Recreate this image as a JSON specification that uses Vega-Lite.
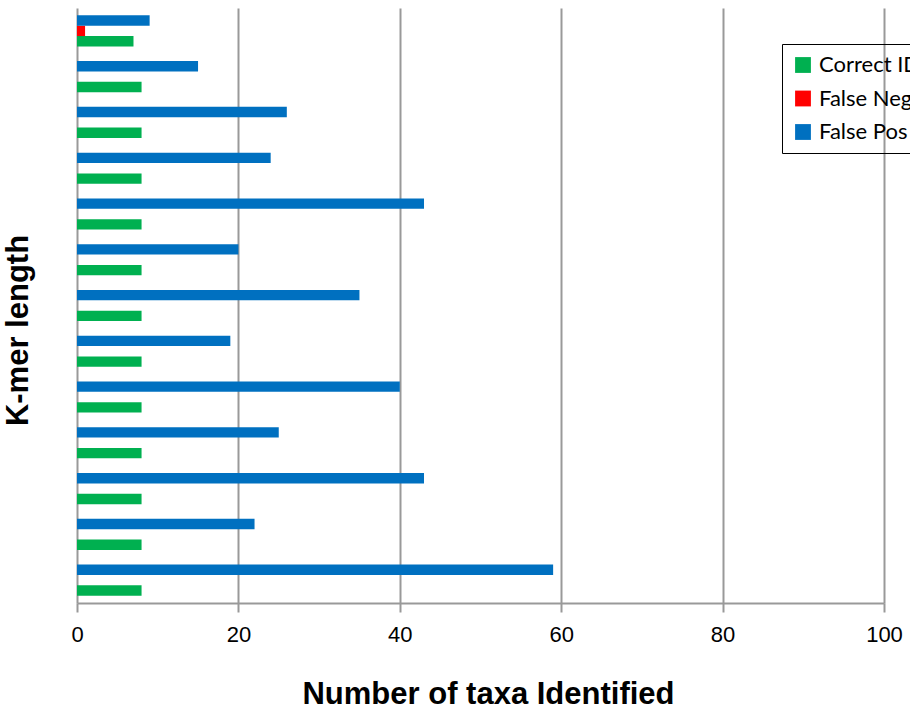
{
  "$schema": "https://vega.github.io/schema/vega-lite/v6.json",
  "width": 807,
  "height": 595,
  "autosize": {"type": "none"},
  "padding": {"left": 77, "top": 8, "right": 26, "bottom": 110},
  "background": "white",
  "config": {"view": {"stroke": null}, "font": "Liberation Sans"},
  "data": {
    "values": [
      {"kmer": "1", "series": "Correct ID", "count": 7},
      {"kmer": "1", "series": "False Neg", "count": 1},
      {"kmer": "1", "series": "False Pos", "count": 9},
      {"kmer": "2", "series": "Correct ID", "count": 8},
      {"kmer": "2", "series": "False Neg", "count": 0},
      {"kmer": "2", "series": "False Pos", "count": 15},
      {"kmer": "3", "series": "Correct ID", "count": 8},
      {"kmer": "3", "series": "False Neg", "count": 0},
      {"kmer": "3", "series": "False Pos", "count": 26},
      {"kmer": "4", "series": "Correct ID", "count": 8},
      {"kmer": "4", "series": "False Neg", "count": 0},
      {"kmer": "4", "series": "False Pos", "count": 24},
      {"kmer": "5", "series": "Correct ID", "count": 8},
      {"kmer": "5", "series": "False Neg", "count": 0},
      {"kmer": "5", "series": "False Pos", "count": 43},
      {"kmer": "6", "series": "Correct ID", "count": 8},
      {"kmer": "6", "series": "False Neg", "count": 0},
      {"kmer": "6", "series": "False Pos", "count": 20},
      {"kmer": "7", "series": "Correct ID", "count": 8},
      {"kmer": "7", "series": "False Neg", "count": 0},
      {"kmer": "7", "series": "False Pos", "count": 35},
      {"kmer": "8", "series": "Correct ID", "count": 8},
      {"kmer": "8", "series": "False Neg", "count": 0},
      {"kmer": "8", "series": "False Pos", "count": 19},
      {"kmer": "9", "series": "Correct ID", "count": 8},
      {"kmer": "9", "series": "False Neg", "count": 0},
      {"kmer": "9", "series": "False Pos", "count": 40},
      {"kmer": "10", "series": "Correct ID", "count": 8},
      {"kmer": "10", "series": "False Neg", "count": 0},
      {"kmer": "10", "series": "False Pos", "count": 25},
      {"kmer": "11", "series": "Correct ID", "count": 8},
      {"kmer": "11", "series": "False Neg", "count": 0},
      {"kmer": "11", "series": "False Pos", "count": 43},
      {"kmer": "12", "series": "Correct ID", "count": 8},
      {"kmer": "12", "series": "False Neg", "count": 0},
      {"kmer": "12", "series": "False Pos", "count": 22},
      {"kmer": "13", "series": "Correct ID", "count": 8},
      {"kmer": "13", "series": "False Neg", "count": 0},
      {"kmer": "13", "series": "False Pos", "count": 59}
    ]
  },
  "mark": {"type": "bar"},
  "encoding": {
    "y": {
      "field": "kmer",
      "type": "nominal",
      "sort": null,
      "scale": {"paddingInner": 0.32, "paddingOuter": 0.16},
      "axis": {
        "title": "K-mer length",
        "labels": false,
        "ticks": false,
        "domain": false,
        "titleFont": "Liberation Sans",
        "titleFontSize": 31,
        "titleFontWeight": "bold",
        "titleColor": "black",
        "titleAngle": 270,
        "titleAlign": "center",
        "titleBaseline": "alphabetic",
        "titleX": -50,
        "titleY": 322
      }
    },
    "yOffset": {
      "field": "series",
      "type": "nominal",
      "sort": ["False Pos", "False Neg", "Correct ID"],
      "scale": {"paddingInner": 0, "paddingOuter": 0}
    },
    "x": {
      "field": "count",
      "type": "quantitative",
      "scale": {"domain": [0, 100]},
      "axis": {
        "values": [0, 20, 40, 60, 80, 100],
        "grid": true,
        "gridColor": "#999999",
        "gridWidth": 2,
        "domainColor": "#999999",
        "domainWidth": 2,
        "tickColor": "#999999",
        "tickWidth": 2,
        "tickSize": 9,
        "labelFlush": false,
        "labelFont": "Liberation Sans",
        "labelFontSize": 22,
        "labelColor": "black",
        "labelPadding": 12,
        "title": "Number of taxa Identified",
        "titleFont": "Liberation Sans",
        "titleFontSize": 31,
        "titleFontWeight": "bold",
        "titleColor": "black",
        "titleAlign": "center",
        "titleBaseline": "alphabetic",
        "titleX": 411,
        "titleY": 100
      }
    },
    "color": {
      "field": "series",
      "type": "nominal",
      "scale": {
        "domain": ["Correct ID", "False Neg", "False Pos"],
        "range": ["#00B050", "#FF0000", "#0070C0"]
      },
      "legend": {
        "title": null,
        "orient": "none",
        "legendX": 705,
        "legendY": 36,
        "strokeColor": "black",
        "padding": 10,
        "symbolType": "square",
        "symbolSize": 250,
        "symbolStrokeWidth": 0,
        "labelFont": "Lato",
        "labelFontSize": 22,
        "labelColor": "black",
        "labelOffset": 5,
        "labelLimit": 300,
        "rowPadding": 11.5
      }
    }
  }
}
